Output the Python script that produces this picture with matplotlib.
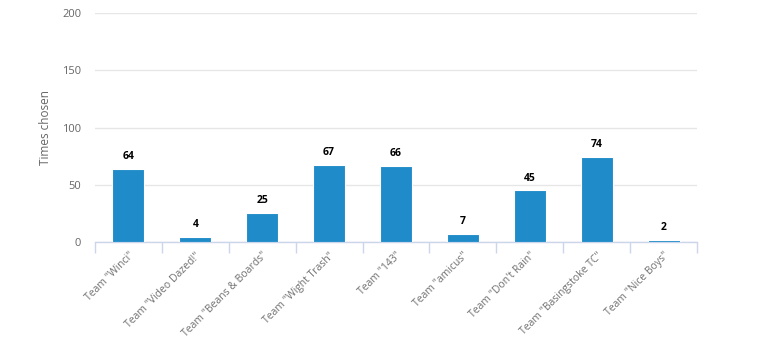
import matplotlib
matplotlib.use("Agg")
import matplotlib.pyplot as plt
import numpy as np

teams = ['Team "Winci"', 'Team "Video Dazed!"', 'Team "Beans & Boards"',
         'Team "Wight Trash"', 'Team "143"', 'Team "amicus"',
         'Team "Don\'t Rain"', 'Team "Basingstoke TC"', 'Team "Nice Boys"']
times_chosen = [64, 4, 25, 67, 66, 7, 45, 74, 2]
y_ticks = [0, 50, 100, 150, 200]

plt.rcParams['font.family'] = ['Open Sans', 'DejaVu Sans']

fig = plt.figure(figsize=(7.63, 3.41), dpi=100)
ax = fig.add_axes([95 / 763, 1 - 242 / 341, 602 / 763, 229 / 341])

x = np.arange(len(teams))
ax.bar(x, times_chosen, width=0.48, color='#1f8bc9', edgecolor='white',
       linewidth=0.8, zorder=3)

for xi, v in zip(x, times_chosen):
    ax.annotate(str(v), (xi, v), xytext=(0, 5), textcoords='offset points',
                ha='center', va='bottom', fontsize=7.5, fontweight='bold',
                color='black', zorder=4)

ax.set_xlim(-0.5, len(teams) - 0.5)
ax.set_ylim(0, 200)
ax.set_yticks(y_ticks)
ax.yaxis.grid(True, color='#e6e6e6', linewidth=1, zorder=0)
ax.tick_params(axis='y', length=0, pad=10, labelsize=8, labelcolor='#666666')

# category labels at centres, tick marks at category boundaries
ax.set_xticks(x)
ax.set_xticklabels(teams, rotation=45, ha='right', rotation_mode='anchor',
                   fontsize=7.5, color='#707070')
ax.tick_params(axis='x', which='major', length=0, pad=6)
ax.set_xticks(np.arange(-0.5, len(teams)), minor=True)
ax.tick_params(axis='x', which='minor', length=8, color='#ccd6eb', width=1)

for side in ['top', 'right', 'left']:
    ax.spines[side].set_visible(False)
ax.spines['bottom'].set_color('#ccd6eb')
ax.spines['bottom'].set_linewidth(1)

ax.set_ylabel('Times chosen', fontsize=8.5, color='#666666', labelpad=7)

fig.savefig('out.png', dpi=100)
